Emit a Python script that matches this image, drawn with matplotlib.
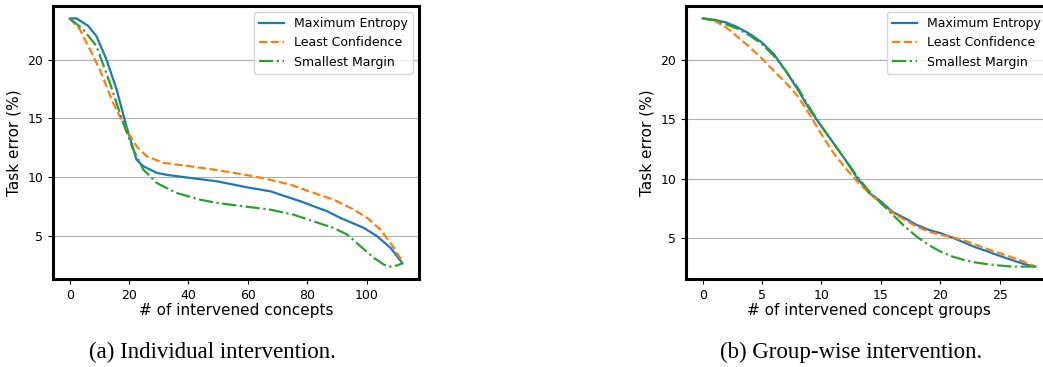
import matplotlib.pyplot as plt

# (a) individual intervention
ind_x_me = [0, 2.3, 6.2, 9.0, 12.4, 15.8, 19.1, 22.5, 24.8, 29.3, 32.7, 40.5, 49.6, 59.7,
            67.6, 77.7, 86.7, 91.2, 99.1, 103.6, 108.1, 112]
ind_me = [23.5, 23.5, 22.87, 22.0, 20.0, 17.47, 14.34, 11.5, 10.93, 10.37, 10.2, 9.94, 9.65, 9.14,
          8.8, 7.95, 7.1, 6.53, 5.68, 4.96, 3.97, 2.69]
ind_x_lc = [0, 3.4, 6.8, 10.1, 14.6, 19.1, 22.5, 25.9, 31.5, 40.5, 50.7, 61.9, 68.6, 74.3,
            82.2, 88.9, 95.7, 100.2, 104.7, 109.2, 112]
ind_lc = [23.5, 22.58, 20.88, 19.17, 16.33, 14.06, 12.63, 11.78, 11.22, 10.93, 10.56, 10.08, 9.71, 9.37,
          8.66, 8.09, 7.24, 6.53, 5.53, 3.97, 2.83]
ind_x_sm = [0, 4.5, 9.0, 13.5, 18.0, 21.4, 24.8, 29.3, 36.0, 43.9, 49.6, 58.6, 67.6, 75.4,
            82.2, 88.9, 93.5, 98.0, 102.5, 105.9, 108.1, 110.4, 112]
ind_sm = [23.5, 22.58, 21.16, 18.04, 14.63, 12.35, 10.65, 9.51, 8.66, 8.09, 7.81, 7.52, 7.24, 6.81,
          6.24, 5.68, 5.11, 4.11, 3.12, 2.55, 2.4, 2.5, 2.69]

# (b) group-wise intervention
grp_x = list(range(29))
grp_me = [23.5, 23.38, 23.15, 22.73, 22.17, 21.46, 20.48, 19.07, 17.52, 15.83, 14.4, 13.0, 11.6,
          10.06, 8.8, 8.08, 7.18, 6.68, 6.11, 5.69, 5.41, 5.04, 4.62, 4.2, 3.86, 3.49, 3.15, 2.82, 2.59]
grp_lc = [23.5, 23.3, 22.73, 21.89, 21.04, 20.11, 19.07, 18.08, 16.96, 15.41, 13.72, 12.17, 10.9,
          9.77, 8.79, 7.94, 7.1, 6.53, 5.97, 5.54, 5.27, 5.07, 4.79, 4.42, 4.06, 3.72, 3.38, 3.01, 2.59]
grp_sm = [23.5, 23.35, 23.0, 22.6, 22.03, 21.32, 20.34, 19.07, 17.66, 15.97, 14.42, 13.01, 11.6,
          10.2, 8.93, 7.94, 6.96, 5.97, 5.13, 4.42, 3.86, 3.44, 3.15, 2.93, 2.79, 2.68, 2.59, 2.59, 2.59]

labels = ['Maximum Entropy', 'Least Confidence', 'Smallest Margin']
styles = ['-', '--', '-.']
colors = ['#1f77b4', '#ff7f0e', '#2ca02c']

fig = plt.figure(figsize=(10.43, 3.67), dpi=100)
W, H = 1043, 367
ax1 = fig.add_axes([53 / W, 1 - 279 / H, 366 / W, 273 / H])
ax2 = fig.add_axes([686 / W, 1 - 279 / H, 366 / W, 273 / H])

panels = [
    (ax1, [(ind_x_me, ind_me), (ind_x_lc, ind_lc), (ind_x_sm, ind_sm)], '# of intervened concepts',
     [0, 20, 40, 60, 80, 100]),
    (ax2, [(grp_x, grp_me), (grp_x, grp_lc), (grp_x, grp_sm)], '# of intervened concept groups',
     [0, 5, 10, 15, 20, 25]),
]
for ax, series, xlabel, xticks in panels:
    for (xs, ys), lab, ls, c in zip(series, labels, styles, colors):
        ax.plot(xs, ys, ls, color=c, label=lab, linewidth=1.6)
    ax.set_xticks(xticks)
    ax.set_yticks([5, 10, 15, 20])
    ax.grid(axis='y', color='#b0b0b0', linewidth=0.8)
    ax.set_axisbelow(True)
    ax.tick_params(labelsize=9)
    ax.set_xlabel(xlabel, fontsize=11, labelpad=1)
    ax.set_ylabel('Task error (%)', fontsize=11)
    for sp in ax.spines.values():
        sp.set_linewidth(2.2)
    ax.legend(loc='upper right', fontsize=9, handlelength=2.0)

fig.text(212 / W, 1 - 352 / H, '(a) Individual intervention.', family='Liberation Serif',
         fontsize=16.5, ha='center', va='center')
fig.text(851 / W, 1 - 352 / H, '(b) Group-wise intervention.', family='Liberation Serif',
         fontsize=16.5, ha='center', va='center')

fig.savefig('out.png', dpi=100)
